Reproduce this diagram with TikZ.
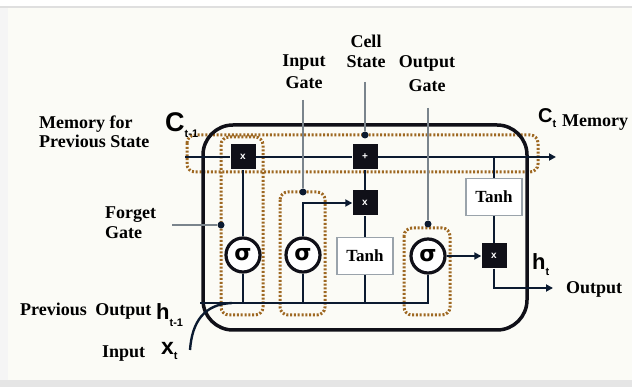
\documentclass[tikz,border=0pt]{standalone}
\usepackage{fontspec}
\setmainfont{Liberation Serif}
\newfontfamily\lsans{Liberation Sans}
\newfontfamily\dvs{DejaVu Sans}
\usetikzlibrary{arrows.meta}
\definecolor{navy}{HTML}{0B1A30}
\definecolor{boxc}{HTML}{101018}
\definecolor{grayc}{HTML}{7A848C}
\definecolor{orc}{HTML}{9E6822}
\definecolor{tanhc}{HTML}{9AA3AB}
\definecolor{bgc}{HTML}{FBFBF6}
\newcommand\symlab[4]{{\lsans\bfseries\fontsize{#1}{#1}\selectfont #2\raisebox{-#4}{\fontsize{11}{11}\selectfont #3}}}
\begin{document}
\begin{tikzpicture}[x=1pt,y=-1pt,
  conn/.style={draw=navy,line width=2.4pt},
  arr/.style={conn,-{Triangle[length=7pt,width=7pt]}},
  mulbox/.style={fill=boxc,minimum size=25pt,inner sep=0pt,text=white,font=\lsans\bfseries\fontsize{10}{10}\selectfont},
  sig/.style={circle,draw=boxc,line width=3.2pt,fill=white,minimum size=34pt,inner sep=0pt,font=\dvs\bfseries\fontsize{22}{22}\selectfont},
  tanhbox/.style={draw=tanhc,line width=1.6pt,fill=white,minimum width=56pt,minimum height=37pt,inner sep=0pt,font=\bfseries\fontsize{17}{17}\selectfont},
  lab/.style={font=\bfseries\fontsize{18}{22}\selectfont,align=center,inner sep=0pt},
  ptr/.style={draw=grayc,line width=1.6pt},
  dot/.style={circle,fill=navy,minimum size=7pt,inner sep=0pt},
  gate/.style={draw=orc,line width=3pt,dash pattern=on 2pt off 1.8pt,rounded corners=8pt},
]
\useasboundingbox (0,0) rectangle (632,387);
\fill[bgc] (0,0) rectangle (632,387);
\fill[white] (0,0) rectangle (632,6);
\fill[gray!25] (0,6) rectangle (632,8);
\fill[gray!20] (0,380) rectangle (632,387);
\fill[gray!8] (0,8) rectangle (8,380);

% gate regions
\draw[gate] (187,135) rectangle (538,172);
\draw[gate] (221,137) rectangle (263,315);
\draw[gate] (280,192) rectangle (325,315);
\draw[gate] (404,228) rectangle (450,315);

% cell body
\draw[draw=boxc,line width=3.5pt,rounded corners=30pt] (203,125) rectangle (527,330);

% nodes
\node[mulbox] (fmul) at (243,157) {x};
\node[mulbox] (add) at (365,157) {+};
\node[mulbox] (imul) at (365,203) {x};
\node[mulbox] (omul) at (494,256) {x};
\node[sig] (fsig) at (243,255) {σ};
\node[sig] (isig) at (303,255) {σ};
\node[sig] (osig) at (428,256) {σ};
\node[tanhbox] (itanh) at (365,256) {Tanh};
\node[tanhbox] (otanh) at (494,197) {Tanh};

\coordinate (cin) at (185,157);
\coordinate (cout) at (556,157);
\coordinate (jt) at (494,157);
\coordinate (hs) at (200,303);
\coordinate (xs) at (190,350);
\coordinate (xj) at (232,303);
\coordinate (oend) at (553,288);

% connectors
\draw[conn] (cin) -- (fmul);
\draw[conn] (fmul) -- (add);
\draw[arr] (add) -- (cout);
\draw[conn] (jt) -- (otanh);
\draw[conn] (hs) -| (osig);
\draw[conn] (xs) .. controls (192,322) and (204,304) .. (xj);
\draw[conn] (fsig) -- (fmul);
\draw[conn] (fsig) -- (fsig |- hs);
\draw[conn] (isig) -- (isig |- hs);
\draw[arr] (isig) |- (imul);
\draw[conn] (itanh) -- (imul);
\draw[conn] (itanh) -- (itanh |- hs);
\draw[conn] (imul) -- (add);
\draw[arr] (osig) -- (omul);
\draw[conn] (otanh) -- (omul);
\draw[arr] (omul) |- (oend);

% pointers
\node[dot] (dcell) at (365,135) {};
\node[dot] (din) at (303,192) {};
\node[dot] (dout) at (428,224) {};
\node[dot] (dfor) at (221,225) {};
\coordinate (pcell) at (365,82);
\coordinate (pin) at (303,100);
\coordinate (pout) at (428,108);
\coordinate (pfor) at (172,225);
\draw[ptr] (pcell) -- (dcell);
\draw[ptr] (pin) -- (din);
\draw[ptr] (pout) -- (dout);
\draw[ptr] (pfor) -- (dfor);

% labels
\node[lab,align=left,anchor=north west,font=\bfseries\fontsize{18}{19}\selectfont] (lmem) at (39,116) {Memory for\\Previous State};
\node[lab,anchor=north] (lin) at (304,55) {Input\\Gate};
\node[lab,anchor=north,font=\bfseries\fontsize{18}{20}\selectfont] (lcell) at (366,35) {Cell\\State};
\node[lab,anchor=north,font=\bfseries\fontsize{18}{24}\selectfont] (lout) at (427,55) {Output\\Gate};
\node[lab,align=left,anchor=north west,font=\bfseries\fontsize{18}{20}\selectfont] (lfor) at (105,207) {Forget\\Gate};
\node[lab,anchor=base west] (lprev) at (20,316) {Previous\hspace{4pt} Output};
\node[lab,anchor=base west] (linput) at (102,357) {Input};
\node[lab,anchor=base west] (loutput) at (566,294) {Output};
\node[lab,anchor=base west] (lmemory) at (562,127) {Memory};
\node[inner sep=0pt,anchor=base west] (cprev) at (165,132) {\symlab{27}{C}{t-1}{6pt}};
\node[inner sep=0pt,anchor=base west] (cnow) at (538,123) {\symlab{20}{C}{t}{5pt}};
\node[inner sep=0pt,anchor=base west] (hprev) at (156,320) {\symlab{22}{h}{t-1}{6pt}};
\node[inner sep=0pt,anchor=base west] (xnow) at (161,355) {\symlab{23}{x}{t}{5pt}};
\node[inner sep=0pt,anchor=base west] (hnow) at (532,270) {\symlab{22}{h}{t}{6pt}};
\end{tikzpicture}
\end{document}
